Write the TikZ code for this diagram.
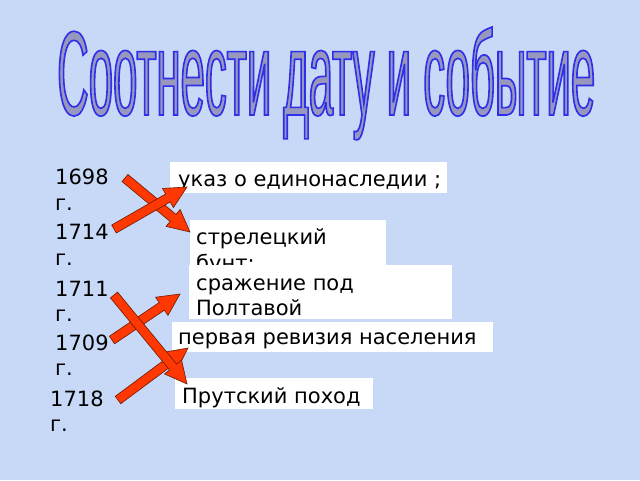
\documentclass[tikz,border=0pt]{standalone}
\usepackage{fontspec}
\setmainfont{DejaVu Sans}
\newfontfamily\titlefont[FakeStretch=0.37]{Liberation Sans}
\usetikzlibrary{calc}
\definecolor{bgblue}{RGB}{200,216,247}
\definecolor{titlefill}{RGB}{152,152,190}
\definecolor{arrowred}{RGB}{255,55,0}
\definecolor{arrowedge}{RGB}{110,25,0}
\newcommand\barrow[2]{%
  \coordinate (ba-c) at ($(#2)!22pt!(#1)$);
  \draw[blockarr] ($(#1)!4.6pt!90:(#2)$) -- ($(ba-c)!4.6pt!90:(#2)$)
    -- ($(ba-c)!11pt!90:(#2)$) -- (#2) -- ($(ba-c)!11pt!-90:(#2)$)
    -- ($(ba-c)!4.6pt!-90:(#2)$) -- ($(#1)!4.6pt!-90:(#2)$) -- cycle;}
\tikzset{
  datelbl/.style={anchor=base west, inner sep=0, font=\fontsize{21}{26}\selectfont, text=black},
  boxtxt/.style={anchor=base west, inner sep=0, font=\fontsize{21}{26}\selectfont, text=black},
  whitebox/.style={anchor=north west, fill=white, draw=none, inner sep=0},
  blockarr/.style={fill=arrowred, draw=arrowedge, line width=0.6pt, line join=miter},
  ttl/.style={anchor=base west, inner sep=0, text=titlefill}
}
\begin{document}
\begin{tikzpicture}[x=1pt,y=-1pt]
\useasboundingbox (0,0) rectangle (640,480);
\fill[bgblue] (0,0) rectangle (640,480);
% title
\node[ttl] (title) at (57,115) {\special{pdf:literal direct 0.18 0.18 0.92 RG 2 Tr 1.6 w}\resizebox{538pt}{88pt}{\titlefont\fontsize{118}{118}\selectfont Соотнести дату и событие}\special{pdf:literal direct 0 Tr}};
% dates
\node[datelbl] (d1) at (55,184) {1698};
\node[datelbl] (g1) at (55,210) {г.};
\node[datelbl] (d2) at (55,239) {1714};
\node[datelbl] (g2) at (55,265) {г.};
\node[datelbl] (d3) at (55,296) {1711};
\node[datelbl] (g3) at (55,321) {г.};
\node[datelbl] (d4) at (55,350) {1709};
\node[datelbl] (g4) at (55,375) {г.};
\node[datelbl] (d5) at (50,406) {1718};
\node[datelbl] (g5) at (50,431) {г.};
% boxes
\node[whitebox, minimum width=277, minimum height=31] (b1) at (170,162) {};
\node[boxtxt] (e1) at (178,186) {указ о единонаследии ;};
\node[whitebox, minimum width=196, minimum height=50] (b2) at (190,220) {};
\node[boxtxt] (e2) at (196,244) {стрелецкий};
\node[boxtxt] (e2b) at (196,270) {бунт;};
\node[whitebox, minimum width=263, minimum height=54] (b3) at (189,265) {};
\node[boxtxt] (e3) at (196,290) {сражение под};
\node[boxtxt] (e3b) at (196,315) {Полтавой};
\node[whitebox, minimum width=321, minimum height=30] (b4) at (172,322) {};
\node[boxtxt] (e4) at (178,344) {первая ревизия населения};
\node[whitebox, minimum width=198, minimum height=31] (b5) at (175,378) {};
\node[boxtxt] (e5) at (182,403) {Прутский поход};
% arrow ends
\coordinate (t1) at (125,178); \coordinate (h1) at (190,232);
\coordinate (t2) at (114,229); \coordinate (h2) at (187,187);
\coordinate (t3) at (114,295); \coordinate (h3) at (187,384);
\coordinate (t4) at (112,340); \coordinate (h4) at (180,294);
\coordinate (t5) at (118,400); \coordinate (h5) at (188,348);
\barrow{t1}{h1}
\barrow{t2}{h2}
\barrow{t4}{h4}
\barrow{t5}{h5}
\barrow{t3}{h3}
\end{tikzpicture}
\end{document}
